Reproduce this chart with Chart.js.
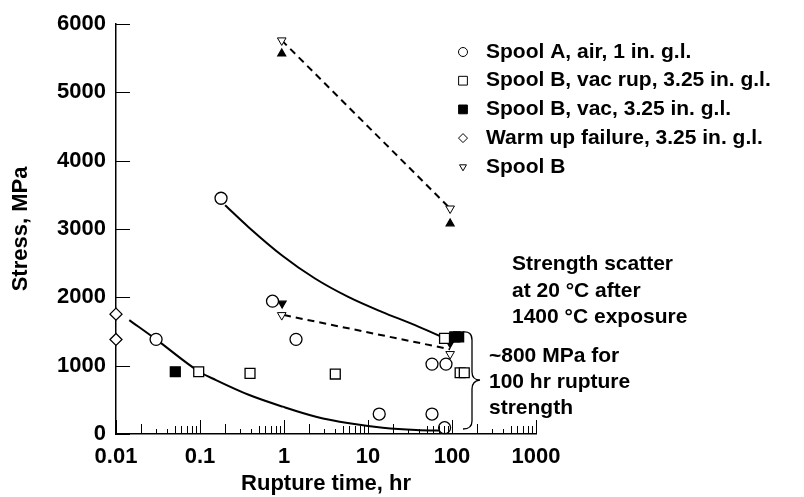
<!DOCTYPE html>
<html>
<head>
<meta charset="utf-8">
<script src="https://cdn.jsdelivr.net/npm/chart.js@4"></script>
<style>
  html, body { margin: 0; padding: 0; background: #fff; }
  #wrap { width: 804px; height: 497px; }
</style>
</head>
<body>
<div id="wrap"><canvas id="c" width="804" height="497"></canvas></div>
<script>
// ---------- data ----------
const xTickValues = [0.01, 0.1, 1, 10, 100, 1000];
const xTickLabels = ['0.01', '0.1', '1', '10', '100', '1000'];
const yTickValues = [0, 1000, 2000, 3000, 4000, 5000, 6000];
const yTickLabels = ['0', '1000', '2000', '3000', '4000', '5000', '6000'];

const spoolAirX = [0.178, 0.030, 0.73, 1.39, 13.6, 57.8, 57.8, 84.8, 81.6];
const spoolAirY = [3450, 1385, 1944, 1385, 292, 292, 1023, 1023, 92];

const vacRupX = [0.0965, 0.394, 4.08, 81.5, 125, 140];
const vacRupY = [911, 887, 877, 1399, 896, 896];

const vacX = [0.0508, 108, 120];
const vacY = [911, 1420, 1420];

const warmX = [0.01, 0.01];
const warmY = [1754, 1384];

const spoolBX = [0.94, 95, 0.94, 95];
const spoolBY = [5760, 3300, 1740, 1170];

const arrowUpX = [0.94, 95];
const arrowUpY = [5566, 3080];
const arrowDownX = [0.95, 95];
const arrowDownY = [1911, 1330];

const upperCurveX = [0.199, 0.376, 0.94, 2.34, 5.82, 14.6, 36.3, 75.3];
const upperCurveY = [3348, 3031, 2617, 2276, 2007, 1788, 1594, 1423];

const lowerCurveX = [0.0144, 0.030, 0.0984, 0.155, 0.386, 0.965, 2.40, 5.99, 15, 37.3, 85];
const lowerCurveY = [1667, 1385, 911, 789, 570, 400, 253, 156, 92, 58, 48];

const dash1X = [0.94, 95];
const dash1Y = [5760, 3300];
const dash2X = [1.0, 95];
const dash2Y = [1740, 1240];

const legendLabels = [
  'Spool A, air, 1 in. g.l.',
  'Spool B, vac rup, 3.25 in. g.l.',
  'Spool B, vac, 3.25 in. g.l.',
  'Warm up failure, 3.25 in. g.l.',
  'Spool B'
];
const noteScatter = ['Strength scatter', 'at 20 \u00B0C after', '1400 \u00B0C exposure'];
const noteRupture = ['~800 MPa for', '100 hr rupture', 'strength'];

// ---------- helpers ----------
const pts = (xs, ys) => xs.map((x, i) => ({ x: x, y: ys[i] }));
const FONT = '"Liberation Sans", Arial, Helvetica, sans-serif';

Chart.defaults.font.family = FONT;
Chart.defaults.font.weight = 'bold';
Chart.defaults.font.size = 22;
Chart.defaults.color = '#000';

function markerDS(label, xs, ys, style, opts) {
  return Object.assign({
    label: label,
    data: pts(xs, ys),
    showLine: false,
    pointStyle: style,
    pointRadius: 6,
    pointBorderWidth: 1.3,
    pointBorderColor: '#000',
    pointBackgroundColor: '#fff',
    clip: false,
    inLegend: false
  }, opts || {});
}
function lineDS(label, xs, ys, opts) {
  return Object.assign({
    label: label,
    data: pts(xs, ys),
    showLine: true,
    pointRadius: 0,
    borderColor: '#000',
    borderWidth: 2,
    fill: false,
    clip: false,
    inLegend: false
  }, opts || {});
}

const datasets = [
  markerDS(legendLabels[0], spoolAirX, spoolAirY, 'circle', { pointRadius: 6, inLegend: true, legendRadius: 4.5 }),
  markerDS(legendLabels[1], vacRupX, vacRupY, 'rect', { pointRadius: 7, inLegend: true, legendRadius: 6.2 }),
  markerDS(legendLabels[2], vacX, vacY, 'rect', { pointRadius: 7, pointBackgroundColor: '#000', inLegend: true, legendRadius: 6.2 }),
  markerDS(legendLabels[3], warmX, warmY, 'rectRot', { pointRadius: 6, inLegend: true, legendRadius: 4.5 }),
  markerDS(legendLabels[4], spoolBX, spoolBY, 'triangle', { pointRadius: 5, pointRotation: 180, pointBorderWidth: 1, inLegend: true, legendRadius: 4 }),
  markerDS('Spool B, vac (upper)', arrowUpX, arrowUpY, 'triangle', { pointRadius: 4.5, pointBackgroundColor: '#000' }),
  markerDS('Spool B, vac (lower)', arrowDownX, arrowDownY, 'triangle', { pointRadius: 4.5, pointRotation: 180, pointBackgroundColor: '#000' }),
  lineDS('Upper fit', upperCurveX, upperCurveY, { cubicInterpolationMode: 'monotone' }),
  lineDS('Lower fit', lowerCurveX, lowerCurveY, { cubicInterpolationMode: 'monotone' }),
  lineDS('Spool B trend 1', dash1X, dash1Y, { borderDash: [7, 5] }),
  lineDS('Spool B trend 2', dash2X, dash2Y, { borderDash: [7, 5] })
];

// ---------- plugins ----------
const inwardTicks = {
  id: 'inwardTicks',
  afterDatasetsDraw(chart) {
    const { ctx, scales: { x, y } } = chart;
    ctx.save();
    ctx.strokeStyle = '#000';
    ctx.lineWidth = 1;
    const base = y.getPixelForValue(0);
    ctx.beginPath();
    for (let e = -2; e <= 2; e++) {
      for (let m = 1; m <= 9; m++) {
        const px = Math.round(x.getPixelForValue(m * Math.pow(10, e))) + 0.5;
        const len = m === 1 ? 14 : (m === 2 ? 10 : (m >= 5 ? 8 : 5));
        ctx.moveTo(px, base);
        ctx.lineTo(px, base - len);
      }
    }
    const pxEnd = Math.round(x.getPixelForValue(1000)) + 0.5;
    ctx.moveTo(pxEnd, base);
    ctx.lineTo(pxEnd, base - 14);
    const left = x.getPixelForValue(0.01);
    yTickValues.forEach(v => {
      const py = Math.round(y.getPixelForValue(v)) + 0.5;
      ctx.moveTo(left, py);
      ctx.lineTo(left + 14, py);
    });
    ctx.stroke();
    ctx.restore();
  }
};

function drawMarker(ctx, style, cx, cy, r, fill, rotation) {
  ctx.beginPath();
  if (style === 'circle') {
    ctx.arc(cx, cy, r, 0, Math.PI * 2);
  } else if (style === 'rect') {
    const s = r * Math.SQRT1_2;
    ctx.rect(cx - s, cy - s, 2 * s, 2 * s);
  } else if (style === 'rectRot') {
    ctx.moveTo(cx, cy - r); ctx.lineTo(cx + r, cy); ctx.lineTo(cx, cy + r); ctx.lineTo(cx - r, cy); ctx.closePath();
  } else if (style === 'triangle') {
    const d = rotation === 180 ? -1 : 1;
    ctx.moveTo(cx, cy - d * r);
    ctx.lineTo(cx + r * 0.866, cy + d * r * 0.5);
    ctx.lineTo(cx - r * 0.866, cy + d * r * 0.5);
    ctx.closePath();
  }
  ctx.fillStyle = fill;
  ctx.fill();
  ctx.stroke();
}

const legendAndNotes = {
  id: 'legendAndNotes',
  afterDraw(chart) {
    const ctx = chart.ctx;
    ctx.save();
    ctx.strokeStyle = '#000';
    ctx.lineWidth = 1;
    ctx.textBaseline = 'middle';
    ctx.textAlign = 'left';
    ctx.fillStyle = '#000';
    const items = chart.data.datasets.filter(d => d.inLegend);
    items.forEach((d, i) => {
      const yy = 52 + i * 28.7;
      drawMarker(ctx, d.pointStyle, 463, yy, d.legendRadius, d.pointBackgroundColor, d.pointRotation || 0);
      ctx.fillStyle = '#000';
      ctx.font = 'bold 21px ' + FONT;
      ctx.fillText(d.label, 486, yy);
    });
    ctx.font = 'bold 21px ' + FONT;
    noteScatter.forEach((t, i) => ctx.fillText(t, 512, 264 + i * 26.8));
    noteRupture.forEach((t, i) => ctx.fillText(t, 489, 356 + i * 26.2));
    // curly brace
    ctx.lineWidth = 1.3;
    ctx.beginPath();
    ctx.moveTo(463, 332);
    ctx.quadraticCurveTo(472, 331, 472, 340);
    ctx.lineTo(472, 372);
    ctx.quadraticCurveTo(472, 380, 480, 380);
    ctx.quadraticCurveTo(472, 381, 472, 389);
    ctx.lineTo(472, 421);
    ctx.quadraticCurveTo(472, 429, 463, 429);
    ctx.stroke();
    ctx.restore();
  }
};

new Chart(document.getElementById('c'), {
  type: 'scatter',
  data: { datasets: datasets },
  options: {
    responsive: false,
    animation: false,
    events: [],
    layout: { padding: { left: 0, right: 268, top: 24, bottom: 0 } },
    plugins: { legend: { display: false }, tooltip: { enabled: false } },
    scales: {
      x: {
        type: 'logarithmic',
        min: 0.01,
        max: 1000,
        grid: { display: false },
        border: { display: true, color: '#000', width: 1.5 },
        afterBuildTicks: (s) => { s.ticks = xTickValues.map(v => ({ value: v })); },
        afterFit: (s) => { s.height = 63; },
        ticks: {
          padding: 2,
          maxRotation: 0,
          autoSkip: false,
          font: { size: 22, weight: 'bold' },
          callback: (v) => { const i = xTickValues.indexOf(v); return i >= 0 ? xTickLabels[i] : ''; }
        },
        title: { display: true, text: 'Rupture time, hr', font: { size: 22, weight: 'bold' }, padding: { top: 0, bottom: 0 } }
      },
      y: {
        min: 0,
        max: 6000,
        grid: { display: false },
        border: { display: true, color: '#000', width: 1.5 },
        afterBuildTicks: (s) => { s.ticks = yTickValues.map(v => ({ value: v })); },
        afterFit: (s) => { s.width = 116; },
        ticks: {
          padding: 2,
          font: { size: 22, weight: 'bold' },
          callback: (v) => { const i = yTickValues.indexOf(v); return i >= 0 ? yTickLabels[i] : ''; }
        },
        title: { display: true, text: 'Stress, MPa', font: { size: 22, weight: 'bold' }, padding: { top: 8, bottom: 0 } }
      }
    }
  },
  plugins: [inwardTicks, legendAndNotes]
});
</script>
</body>
</html>
